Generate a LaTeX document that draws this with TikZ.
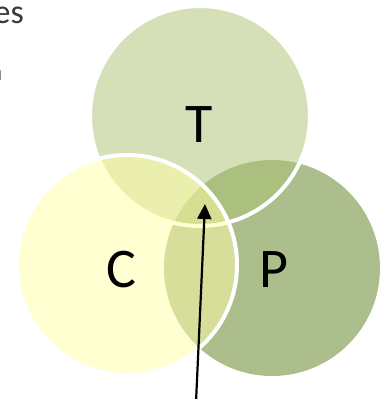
\documentclass[tikz,border=0pt]{standalone}
\usepackage{fontspec}
\setmainfont{Carlito}
\usetikzlibrary{arrows.meta}

\definecolor{topicgreen}{RGB}{171,193,113}
\definecolor{contentyellow}{RGB}{255,255,165}
\definecolor{practiceolive}{RGB}{91,125,27}

\tikzset{
  venn/.style={circle, inner sep=0pt, minimum size=#1, fill opacity=0.5},
  rim/.style={draw=white, line width=4pt},
  setlabel/.style={font=\fontsize{56}{60}\selectfont, text=black},
  bodytext/.style={text=black!78, inner sep=0pt},
  pointer/.style={line width=2.2pt, -{Triangle[length=15pt, width=14pt]}}
}

\begin{document}
\begin{tikzpicture}[x=1pt, y=-1pt]
  \useasboundingbox (0,0) rectangle (390,399);

  \node[bodytext, anchor=base east, font=\fontsize{34}{40}\selectfont] (line1) at (24,23) {es};
  \node[bodytext, anchor=base east, font=\fontsize{26}{30}\selectfont] (line2) at (2.5,80) {n};

  \node[venn=216pt, fill=practiceolive] (P) at (272,268) {};
  \node[venn=220pt, fill=topicgreen, rim] (T) at (200,116) {};
  \node[venn=220pt, fill=contentyellow, rim] (C) at (127,265) {};

  \node[setlabel] (Tlabel) at (199,125) {T};
  \node[setlabel] (Clabel) at (121,270) {C};
  \node[setlabel] (Plabel) at (274,270) {P};

  \coordinate (tail) at (196,402);
  \coordinate (tip) at (205,204);
  \draw[pointer] (tail) -- (tip);
\end{tikzpicture}
\end{document}
